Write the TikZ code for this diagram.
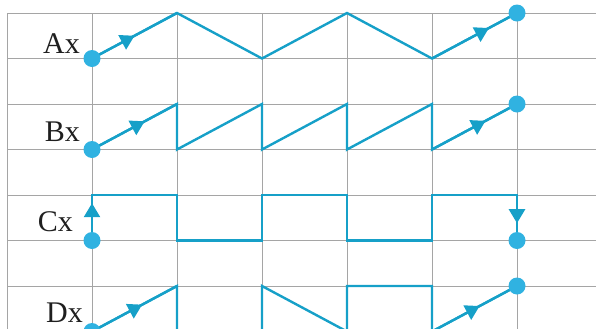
\documentclass[tikz,border=0pt]{standalone}
\usepackage{fontspec}
\setmainfont{Liberation Serif}
\usetikzlibrary{arrows.meta,decorations.markings}
\definecolor{waveblue}{RGB}{22,160,200}
\definecolor{dotblue}{RGB}{48,178,225}
\definecolor{gridgray}{RGB}{165,165,165}
\tikzset{dot/.style={circle,fill=dotblue,minimum size=17pt,inner sep=0pt},
 wave/.style={draw=waveblue,line width=2.4pt,line join=miter},
 gridline/.style={draw=gridgray,line width=0.9pt},
 tag/.style={font=\fontsize{30}{30}\selectfont,text=black!88,inner sep=0pt,anchor=base east},
 flowtip/.style={wave,postaction={decorate},decoration={markings,
  mark=at position #1 with {\arrow{Triangle[length=14pt,width=16pt]}}}}}

\begin{document}
\begin{tikzpicture}[x=85pt,y=-45.5pt]
 \useasboundingbox (-1.0824,-0.2857) rectangle (5.9294,6.9231);
 % grid
 \foreach \j in {0,...,7}
  \draw[gridline] (-1,\j) -- (6,\j);
 \foreach \i in {-1,0,...,5}
  \draw[gridline] (\i,0) -- (\i,7.5);
 % waves
 \draw[wave] (0,1) coordinate (a0) -- (1,0) coordinate (a1) -- (2,1) -- (3,0)
  -- (4,1) coordinate (a4) -- (5,0) coordinate (a5);
 \draw[wave] (0,3) coordinate (b0) -- (1,2) -- (1,3) -- (2,2) -- (2,3) -- (3,2) -- (3,3)
  -- (4,2) -- (4,3) coordinate (b4) -- (5,2) coordinate (b5);
 \coordinate (b1) at (1,2);
 \draw[wave] (0,5) coordinate (c0) -- (0,4) coordinate (c1) -- (1,4) -- (1,5) -- (2,5)
  -- (2,4) -- (3,4) -- (3,5) -- (4,5) -- (4,4) -- (5,4) coordinate (c4) -- (5,5) coordinate (c5);
 \draw[wave] (0,7) coordinate (d0) -- (1,6) coordinate (d1) -- (1,7) -- (2,7) -- (2,6)
  -- (3,7) -- (3,6) -- (4,6) -- (4,7) coordinate (d4) -- (5,6) coordinate (d5);
 % arrows
 \draw[flowtip=.5] (a0) -- (a1);
 \draw[flowtip=.67] (a4) -- (a5);
 \draw[flowtip=.62] (b0) -- (b1);
 \draw[flowtip=.63] (b4) -- (b5);
 \draw[flowtip=.82] (c0) -- (c1);
 \draw[flowtip=.62] (c4) -- (c5);
 \draw[flowtip=.59] (d0) -- (d1);
 \draw[flowtip=.56] (d4) -- (d5);
 % end points
 \foreach \p in {a0,a5,b0,b5,c0,c5,d0,d5}
  \node[dot] (\p dot) at (\p) {};
 % labels
 \node[tag] (tagA) at ([xshift=-12pt,yshift=5.2pt]a0) {Ax};
 \node[tag] (tagB) at ([xshift=-12pt,yshift=7.8pt]b0) {Bx};
 \node[tag] (tagC) at ([xshift=-19pt,yshift=9.5pt]c0) {Cx};
 \node[tag] (tagD) at ([xshift=-9pt,yshift=9pt]d0) {Dx};
\end{tikzpicture}
\end{document}
